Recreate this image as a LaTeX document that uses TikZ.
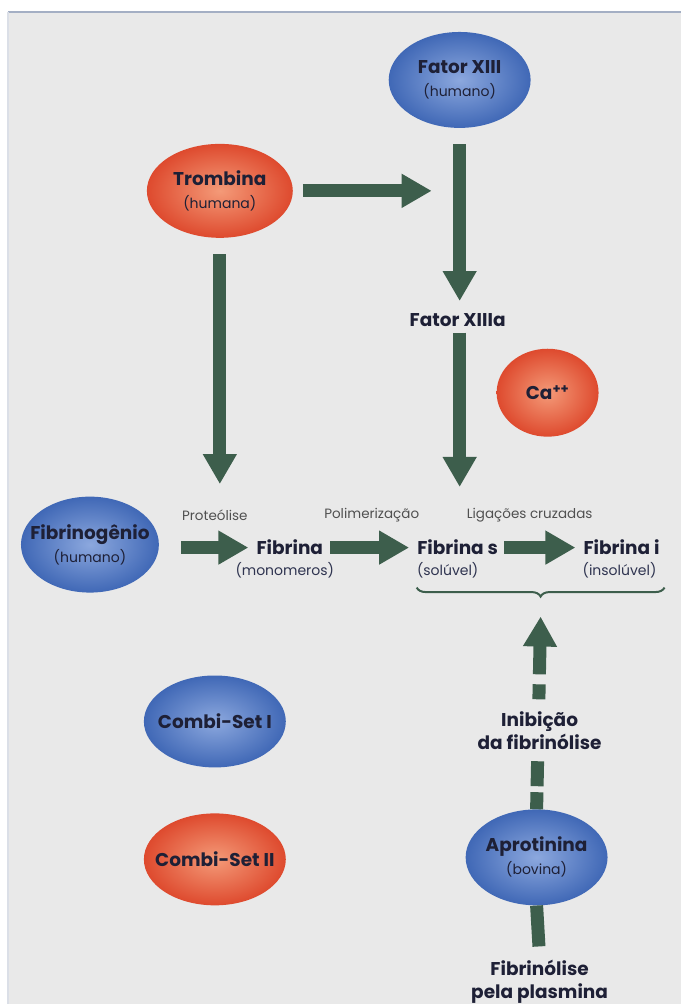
\documentclass[tikz,border=0pt]{standalone}
\usepackage{fontspec}
\setmainfont{Poppins}
\usetikzlibrary{shapes.geometric,arrows.meta,decorations.pathreplacing}

\definecolor{bggray}{HTML}{E9E9E9}
\definecolor{frameline}{HTML}{A4AFC4}
\definecolor{blueA}{HTML}{8CA8DE}
\definecolor{blueB}{HTML}{4068B6}
\definecolor{redA}{HTML}{F49A78}
\definecolor{redB}{HTML}{DE4A2E}
\definecolor{arrowgreen}{HTML}{3D5E4C}
\definecolor{namecol}{HTML}{1E2036}
\definecolor{subcol}{HTML}{2F3450}
\definecolor{notecol}{HTML}{505050}

\newcommand{\namefont}{\fontsize{18.5}{23}\selectfont\bfseries}
\newcommand{\notefont}{\fontsize{13.5}{16}\selectfont}
\newcommand{\subt}[1]{{\fontsize{14}{18}\selectfont\mdseries #1}}
% text inside the balls must not widen them
\newcommand{\balltwo}[2]{\makebox[0pt]{#1}\\\makebox[0pt]{\subt{#2}}}
\newcommand{\ballone}[1]{\makebox[0pt]{#1}}

\begin{document}
\begin{tikzpicture}[x=1pt,y=-1pt,
    blueball/.style={ellipse, minimum width=142, minimum height=96, inner sep=0pt, inner color=blueA, outer color=blueB,
      text=namecol, align=center, font=\namefont},
    redball/.style={ellipse, minimum width=142, minimum height=96, inner sep=0pt, inner color=redA, outer color=redB,
      text=namecol, align=center, font=\namefont},
    lbl/.style={font=\namefont, text=namecol, inner sep=2pt},
    steplbl/.style={font=\notefont, text=notecol, inner sep=1pt},
    subnote/.style={font=\fontsize{14}{18}\selectfont, text=subcol, inner sep=1pt},
    fat/.style={draw=arrowgreen, line width=13pt, -{Triangle[width=32pt,length=30pt]}}]

   % background
   \fill[white] (0,0) rectangle (681,1005);
   \fill[bggray] (8,12) rectangle (681,1005);
   \draw[frameline, line width=2pt] (8,12) -- (681,12);
   \draw[frameline!40, line width=1.5pt] (8,12) -- (8,1005);
   \useasboundingbox (0,0) rectangle (681,1005);

   \node[blueball] (fxiii) at (460,80)  {\balltwo{Fator XIII}{(humano)}};
   \node[redball, minimum width=146, minimum height=94]  (trom)  at (220,191) {\balltwo{Trombina}{(humana)}};
   \coordinate (act) at (432,191);
   \node[lbl] (fxiiia) at (458,320) {Fator XIIIa};
   \node[redball, minimum width=102, minimum height=88] (ca) at (548,393) {\ballone{Ca\textsuperscript{++}}};

   \node[blueball, minimum width=138] (fgen) at (90,545) {\balltwo{Fibrinogênio}{(humano)}};
   \node[steplbl] (prot) at (215,516) {Proteólise};
   \node[lbl] (fmono) at (290,548) {Fibrina};
   \node[subnote] (fmonos) at (285,571) {(monomeros)};
   \node[steplbl] (poli) at (372,516) {Polimerização};
   \node[lbl] (fsol) at (458,548) {Fibrina s};
   \node[subnote] (fsols) at (448,571) {(solúvel)};
   \node[steplbl] (lig) at (530,516) {Ligações cruzadas};
   \node[lbl] (fins) at (622,548) {Fibrina i};
   \node[subnote] (finss) at (620,571) {(insolúvel)};
   \coordinate (bl) at (417,588);
   \coordinate (br) at (665,588);
   \coordinate (bt) at (541,617);

   \node[blueball, minimum height=92] (comb1) at (215,722) {\ballone{Combi-Set I}};
   \node[redball, minimum height=92]  (comb2) at (215,860) {\ballone{Combi-Set II}};
   \node[lbl, align=center] (inib) at (540,731) {Inibição\\da fibrinólise};
   \node[blueball] (apro) at (537,858) {\balltwo{Aprotinina}{(bovina)}};
   \node[lbl, align=center] (plas) at (540,982) {Fibrinólise\\pela plasmina};

   \draw[fat, shorten <=10] (trom.east) -- (act);
   \draw[fat, shorten <=16, shorten >=10] (fxiii.south) -- (fxiiia.north -| fxiii.south);
   \draw[fat, shorten <=4, shorten >=51] (fxiiia.south -| fxiii.south) -- (fxiii |- fsol.north);
   \draw[fat, shorten <=16, shorten >=25] (trom.south) -- (trom |- prot.north);
   \draw[fat, shorten <=22, shorten >=6] (fgen.east |- fmono) -- (fmono.west);
   \draw[fat, shorten <=5, shorten >=6] (fmono.east) -- (fsol.west);
   \draw[fat, shorten <=4, shorten >=6] (fsol.east) -- (fins.west);
   \draw[arrowgreen, line width=2pt, decorate, decoration={brace, amplitude=9pt, mirror}] (bl) -- (br);
   \draw[fat, dash pattern=on 17pt off 6pt on 25pt off 62pt on 15pt off 10pt on 100pt] (apro.north) -- (bt);
   \draw[arrowgreen, line width=13pt, shorten <=11] (plas.north) -- (apro.south);
\end{tikzpicture}
\end{document}
